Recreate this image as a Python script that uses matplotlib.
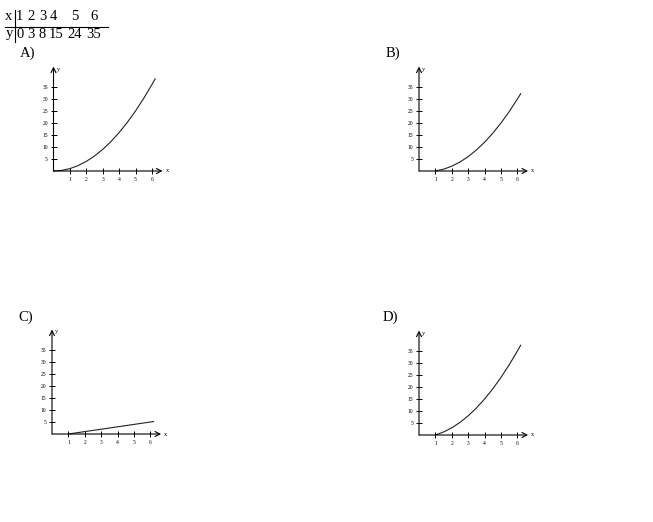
import matplotlib
matplotlib.use("Agg")
import matplotlib.pyplot as plt

# table at the top
table_x = ["1", "2", "3", "4", "5", "6"]
table_y = ["0", "3", "8", "15", "24", "35"]

# curves of the four answer choices
a_x = [0, 0.5, 1, 1.5, 2, 2.5, 3, 3.5, 4, 4.5, 5, 5.5, 6, 6.2]
a_y = [0, 0.25, 1, 2.25, 4, 6.25, 9, 12.25, 16, 20.25, 25, 30.25, 36, 38.4]
b_x = [1, 1.5, 2, 2.5, 3, 3.5, 4, 4.5, 5, 5.5, 6, 6.2]
b_y = [0, 0.75, 2, 3.75, 6, 8.75, 12, 15.75, 20, 24.75, 30, 32.2]
c_x = [1, 6.2]
c_y = [0, 5.2]
d_x = [1, 1.5, 2, 2.5, 3, 3.5, 4, 4.5, 5, 5.5, 6, 6.2]
d_y = [0, 1.25, 3, 5.25, 8, 11.25, 15, 19.25, 24, 29.25, 35, 37.4]

panel_labels = ["A)", "B)", "C)", "D)"]
x_ticks = [1, 2, 3, 4, 5, 6]
y_ticks = [5, 10, 15, 20, 25, 30, 35]

W, H = 653, 522
SERIF = "Liberation Serif"
FS = 10.5

fig = plt.figure(figsize=(W / 100, H / 100), dpi=100)


def fx(px):
    return px / W


def fy(py):
    return 1 - py / H


# header table
row1_pos = [19, 31, 42.5, 53, 75, 94]
row2_pos = [20, 31, 42.5, 56.5, 74.5, 94]
fig.text(fx(9), fy(17), "x", ha="center", va="center", fontsize=FS, family=SERIF)
fig.text(fx(9), fy(34), "y", ha="center", va="center", fontsize=FS, family=SERIF)
for s, p in zip(table_x, row1_pos):
    fig.text(fx(p), fy(17), s, ha="center", va="center", fontsize=FS, family=SERIF)
for s, p in zip(table_y, row2_pos):
    fig.text(fx(p), fy(34), s, ha="center", va="center", fontsize=FS, family=SERIF)
fig.add_artist(plt.Line2D([fx(5), fx(108)], [fy(27), fy(27)], color="black", lw=0.8))
fig.add_artist(plt.Line2D([fx(14.5), fx(14.5)], [fy(10), fy(42)], color="black", lw=0.8))

# panels: (y-axis px, x-axis px, label pos)
panels = [
    (53.5, 171, (28, 53), a_x, a_y),
    (419, 171, (393, 53), b_x, b_y),
    (52, 434, (26, 317), c_x, c_y),
    (419, 435, (390, 317), d_x, d_y),
]

XMAX, YMAX = 6.7, 44
PX_X, PX_Y = 16.4, 2.4

for lab, (ox, oy, lpos, xs, ys) in zip(panel_labels, panels):
    fig.text(fx(lpos[0]), fy(lpos[1]), lab, ha="center", va="center", fontsize=FS, family=SERIF)
    w = XMAX * PX_X
    h = YMAX * PX_Y
    ax = fig.add_axes([fx(ox), fy(oy), w / W, h / H])
    ax.set_xlim(0, XMAX)
    ax.set_ylim(0, YMAX)
    ax.patch.set_visible(False)
    for sp in ax.spines.values():
        sp.set_visible(False)
    ax.annotate("", xy=(6.65, 0), xytext=(0, 0),
                arrowprops=dict(arrowstyle="->,head_length=0.35,head_width=0.18", lw=0.8, color="black",
                                shrinkA=0, shrinkB=0), annotation_clip=False)
    ax.annotate("", xy=(0, 43.5), xytext=(0, 0),
                arrowprops=dict(arrowstyle="->,head_length=0.35,head_width=0.18", lw=0.8, color="black",
                                shrinkA=0, shrinkB=0), annotation_clip=False)
    ax.text(6.85, 0, "x", ha="left", va="center", fontsize=4.5, family=SERIF, clip_on=False)
    ax.text(0.2, 42.5, "y", ha="left", va="center", fontsize=4.5, family=SERIF, clip_on=False)
    ax.set_xticks(x_ticks)
    ax.set_yticks(y_ticks)
    ax.set_xticklabels([str(t) for t in x_ticks], family=SERIF)
    ax.set_yticklabels([str(t) for t in y_ticks], family=SERIF)
    ax.tick_params(direction="inout", length=4, width=0.7, labelsize=4, pad=2)
    ax.plot(xs, ys, color="#222222", lw=0.8, clip_on=False)

fig.savefig("out.png", dpi=100)
